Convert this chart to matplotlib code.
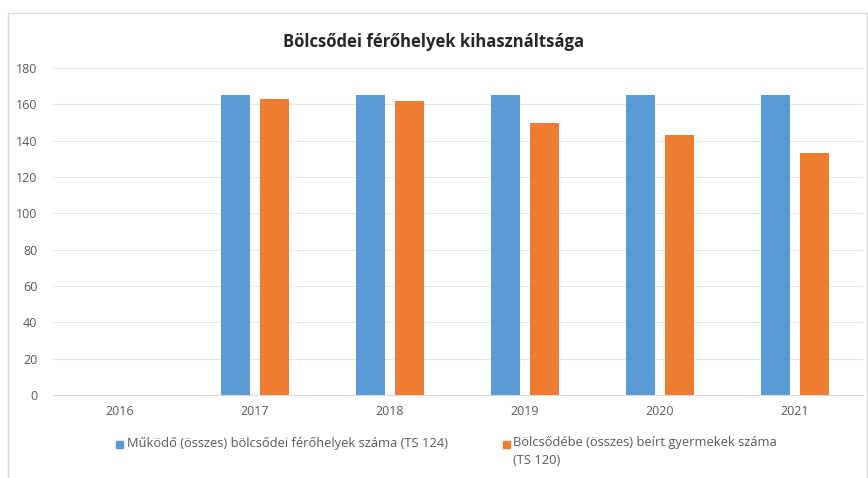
import numpy as np
import matplotlib.pyplot as plt
from matplotlib.patches import Rectangle

evek = ["2016", "2017", "2018", "2019", "2020", "2021"]
ferohelyek = [np.nan, 165, 165, 165, 165, 165]
beirt = [np.nan, 163, 162, 150, 143, 133]
cimkek = ["Működő (összes) bölcsődei férőhelyek száma (TS 124)",
          "Bölcsődébe (összes) beírt gyermekek száma\n(TS 120)"]
kek = "#5B9BD5"
narancs = "#ED7D31"

plt.rcParams['font.family'] = ['Open Sans', 'DejaVu Sans']

fig = plt.figure(figsize=(8.68, 4.78), dpi=100)
ax = fig.add_axes([0.0605, 0.1736, 0.9332, 0.6841])

x = np.arange(len(evek))
w = 0.215
ax.bar(x - 0.144, ferohelyek, w, color=kek, zorder=3)
ax.bar(x + 0.144, beirt, w, color=narancs, zorder=3)

ax.set_xlim(-0.5, len(evek) - 0.5)
ax.set_ylim(0, 180)
ax.set_yticks(range(0, 181, 20))
ax.set_xticks(x)
ax.set_xticklabels(evek)
ax.grid(axis='y', color='#E6E6E6', linewidth=0.8, zorder=0)
for s in ['top', 'right', 'left']:
    ax.spines[s].set_visible(False)
ax.spines['bottom'].set_color('#D9D9D9')
ax.tick_params(length=0, labelsize=9, colors='#595959')
ax.tick_params(axis='y', pad=11)
ax.tick_params(axis='x', pad=7)

fig.text(0.5, 0.912, "Bölcsődei férőhelyek kihasználtsága", ha='center', va='center',
         fontsize=12, fontweight='bold', color='#262626')

# jelmagyarázat
fig.add_artist(Rectangle((116/868, 1 - 448/478), 7/868, 7/478, color=kek,
                         transform=fig.transFigure))
fig.text(127/868, 1 - 444/478, cimkek[0], fontsize=9.3, color='#595959', va='center')
fig.add_artist(Rectangle((503/868, 1 - 448/478), 7/868, 7/478, color=narancs,
                         transform=fig.transFigure))
fig.text(513/868, 1 - 436/478, cimkek[1], fontsize=9.3, color='#595959', va='top',
         linespacing=1.5)

# keret
fig.add_artist(Rectangle((8/868, -0.02), 0.99, 1 - 13/478 + 0.02, fill=False,
                         edgecolor='#D9D9D9', linewidth=1, transform=fig.transFigure))

fig.savefig("out.png")
